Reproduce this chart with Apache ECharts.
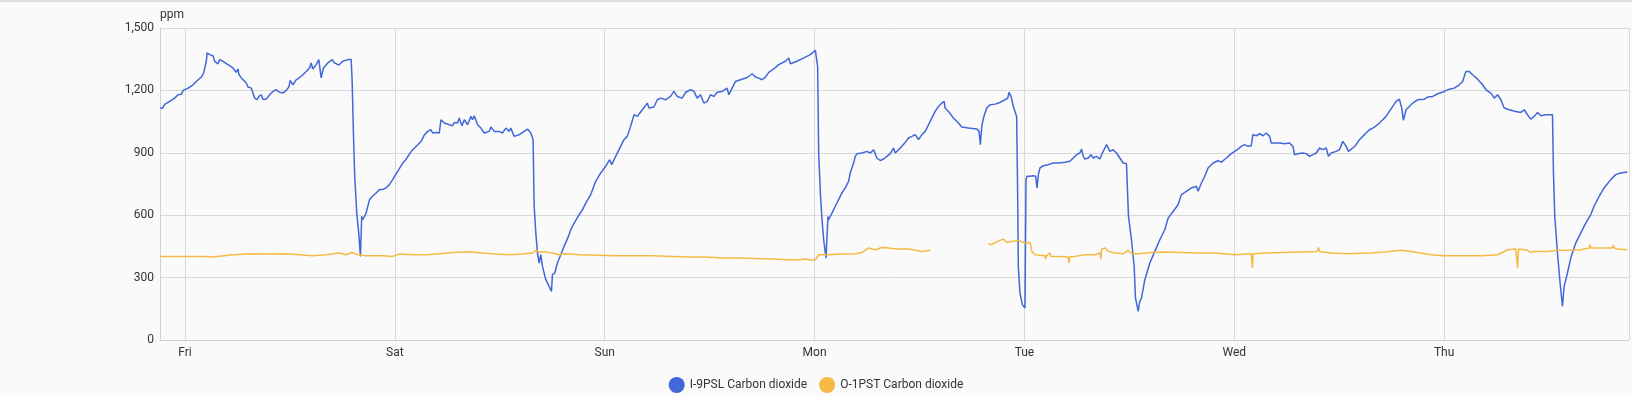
<!DOCTYPE html>
<html>
<head>
<meta charset="utf-8">
<script src="https://cdn.jsdelivr.net/npm/echarts@6/dist/echarts.min.js"></script>
<style>
  html, body { margin: 0; padding: 0; background: #fafafa; }
  #chart { width: 1632px; height: 396px; }
  #topbar { position: absolute; left: 0; top: 0; width: 1632px; height: 2px; background: #dedede; }
</style>
</head>
<body>
<div id="chart"></div>
<div id="topbar"></div>
<script>
// Hours since Friday 00:00, ppm
const seriesNames = ['I-9PSL Carbon dioxide', 'O-1PST Carbon dioxide'];
const weekdayLabels = ['Sun', 'Mon', 'Tue', 'Wed', 'Thu', 'Fri', 'Sat'];
const yTicks = [0, 300, 600, 900, 1200, 1500];

const indoorCO2 = [[-2.85,1115],[-2.58,1114],[-2.32,1133],[-2.13,1127],[-1.75,1147],[-1.18,1163],[-0.80,1179],[-0.41,1182],[-0.22,1200],[0.35,1211],[0.92,1227],[1.49,1251],[1.87,1264],[2.13,1283],[2.25,1291],[2.44,1340],[2.52,1380],[2.82,1372],[3.20,1367],[3.39,1340],[3.77,1328],[3.96,1348],[4.34,1340],[4.91,1324],[5.48,1308],[5.86,1287],[6.06,1303],[6.17,1276],[6.44,1260],[7.01,1236],[7.20,1216],[7.58,1211],[7.77,1187],[7.96,1163],[8.22,1155],[8.45,1171],[8.72,1179],[8.91,1158],[9.29,1158],[9.67,1179],[10.05,1195],[10.43,1203],[10.81,1191],[11.19,1187],[11.57,1200],[11.88,1216],[12.03,1248],[12.33,1227],[12.71,1251],[13.10,1262],[13.48,1275],[13.86,1291],[14.24,1308],[14.43,1332],[14.62,1303],[15.00,1324],[15.30,1348],[15.57,1260],[15.84,1308],[16.33,1332],[16.83,1348],[17.09,1332],[17.28,1340],[17.59,1322],[18.04,1340],[18.62,1348],[19.00,1348],[19.11,1251],[19.26,995],[19.41,787],[19.64,610],[19.87,514],[20.06,402],[20.21,595],[20.33,578],[20.52,578],[20.71,610],[20.90,610],[21.09,674],[21.39,690],[21.85,707],[22.23,723],[22.61,723],[22.99,731],[23.37,747],[23.75,771],[24.32,811],[24.89,850],[25.28,869],[25.85,906],[26.42,930],[26.99,954],[27.37,986],[27.75,1003],[28.13,1011],[28.32,995],[28.70,998],[29.08,995],[29.27,1059],[29.65,1043],[30.22,1035],[30.60,1030],[30.79,1046],[31.17,1043],[31.36,1067],[31.67,1030],[31.94,1059],[32.32,1035],[32.70,1075],[32.89,1059],[33.08,1078],[33.46,1035],[33.84,1019],[34.22,995],[34.79,1003],[34.98,1024],[35.36,1003],[35.93,1003],[36.31,995],[36.69,1019],[37.07,1003],[37.26,1019],[37.64,979],[38.22,987],[38.79,1003],[39.17,1014],[39.36,1011],[39.55,995],[39.81,963],[39.93,643],[40.12,514],[40.31,418],[40.50,370],[40.69,410],[40.88,354],[41.26,290],[41.64,258],[41.91,234],[42.02,314],[42.29,322],[42.59,370],[42.97,410],[43.35,450],[43.85,498],[44.11,530],[44.50,562],[45.07,602],[45.45,626],[45.83,658],[46.40,699],[46.97,763],[47.54,803],[48.11,835],[48.57,867],[48.80,843],[49.25,883],[49.82,931],[50.20,963],[50.58,979],[50.96,1027],[51.35,1083],[51.73,1075],[52.30,1107],[52.87,1139],[53.06,1115],[53.63,1120],[54.01,1155],[54.39,1163],[54.96,1155],[55.53,1171],[55.91,1195],[56.29,1171],[56.86,1163],[57.25,1191],[57.82,1203],[58.20,1195],[58.58,1163],[58.96,1179],[59.34,1139],[59.72,1147],[60.10,1179],[60.48,1171],[60.86,1191],[61.43,1195],[62.00,1211],[62.19,1179],[62.57,1211],[62.95,1243],[63.52,1251],[64.29,1262],[64.86,1280],[65.24,1264],[65.62,1259],[66.00,1251],[66.38,1264],[66.76,1287],[67.33,1303],[67.90,1324],[68.66,1340],[69.04,1356],[69.23,1328],[69.99,1340],[70.76,1356],[71.52,1372],[72.09,1393],[72.28,1398],[72.35,1315],[72.47,899],[72.66,707],[72.85,578],[73.04,482],[73.31,394],[73.53,594],[73.61,578],[73.99,610],[74.37,643],[74.75,675],[75.13,707],[75.51,731],[75.89,763],[76.08,803],[76.28,803],[76.46,851],[76.66,883],[76.85,896],[77.42,899],[77.99,907],[78.37,899],[78.75,915],[78.94,918],[79.13,875],[79.51,863],[79.89,870],[80.27,883],[80.65,896],[81.03,923],[81.22,899],[81.60,915],[81.98,931],[82.36,950],[82.74,971],[83.13,979],[83.51,987],[83.89,963],[84.27,987],[84.65,1003],[84.84,1019],[85.03,1035],[85.41,1067],[85.79,1099],[86.17,1123],[86.55,1139],[86.82,1147],[86.93,1115],[87.31,1099],[87.88,1067],[88.45,1043],[88.83,1024],[89.60,1019],[90.55,1014],[90.81,1003],[90.96,939],[91.12,1027],[91.31,1067],[91.69,1115],[92.07,1131],[92.64,1134],[93.21,1142],[93.78,1155],[94.09,1163],[94.24,1191],[94.47,1171],[94.73,1123],[95.11,1075],[95.23,674],[95.30,354],[95.49,226],[95.76,170],[96.06,154],[96.18,771],[96.29,787],[96.64,787],[97.02,790],[97.28,787],[97.44,731],[97.59,795],[97.78,827],[98.16,838],[98.73,843],[99.30,851],[99.87,851],[100.63,855],[101.20,859],[101.58,875],[101.96,891],[102.34,899],[102.53,918],[102.73,883],[102.92,870],[103.30,875],[103.60,891],[103.87,875],[104.25,883],[104.63,870],[104.82,891],[105.20,923],[105.39,939],[105.58,931],[105.77,907],[106.15,915],[106.53,899],[106.91,875],[107.29,851],[107.67,848],[107.86,843],[107.90,594],[108.24,482],[108.55,354],[108.70,202],[109.01,138],[109.19,186],[109.39,202],[109.77,290],[110.34,370],[110.91,426],[111.48,482],[112.05,530],[112.43,586],[113.00,618],[113.57,650],[113.95,699],[114.52,715],[115.09,731],[115.67,739],[115.86,715],[116.24,755],[116.62,787],[117.00,827],[117.57,851],[118.14,862],[118.52,855],[119.09,875],[119.66,896],[120.04,907],[120.42,918],[120.80,931],[121.18,939],[121.56,931],[121.94,934],[122.13,987],[122.52,982],[122.90,992],[123.28,982],[123.66,995],[124.04,979],[124.23,947],[124.61,947],[125.18,947],[125.75,944],[126.32,947],[126.70,931],[126.89,891],[127.27,896],[127.84,899],[128.22,896],[128.60,883],[128.99,891],[129.37,899],[129.75,923],[130.13,915],[130.51,923],[130.77,883],[131.08,899],[131.65,907],[132.03,915],[132.41,955],[132.79,931],[133.06,907],[133.55,923],[133.93,939],[134.31,963],[134.69,979],[135.08,995],[135.46,1011],[135.84,1019],[136.22,1030],[136.60,1043],[136.98,1059],[137.36,1075],[137.74,1099],[138.12,1123],[138.50,1147],[138.88,1158],[139.07,1155],[139.15,1115],[139.34,1056],[139.64,1107],[140.02,1123],[140.40,1139],[140.97,1155],[141.74,1158],[142.12,1168],[142.69,1171],[143.26,1184],[144.02,1195],[144.59,1206],[145.16,1211],[145.73,1227],[146.11,1243],[146.30,1251],[146.49,1291],[146.87,1291],[147.25,1275],[147.83,1254],[148.40,1227],[148.78,1203],[149.35,1187],[149.73,1163],[150.11,1179],[150.49,1155],[150.87,1115],[151.44,1107],[152.20,1099],[152.77,1094],[153.15,1107],[153.53,1083],[153.91,1062],[154.29,1075],[154.68,1094],[155.06,1078],[155.63,1083],[156.39,1083],[156.50,803],[156.65,594],[156.96,418],[157.26,274],[157.53,162],[157.72,258],[158.10,322],[158.48,394],[159.05,466],[159.62,514],[160.19,562],[160.76,602],[161.14,643],[161.72,690],[162.29,731],[163.05,771],[163.62,795],[164.19,803],[164.95,808]];

const outdoorCO2 = [[-2.85,402],[-0.22,402],[2.44,402],[3.20,399],[5.48,410],[7.77,415],[9.29,413],[11.57,415],[13.10,410],[14.62,405],[16.14,410],[17.66,418],[18.42,410],[19.11,421],[19.76,410],[20.71,405],[22.61,405],[23.75,402],[23.94,410],[24.51,413],[26.04,410],[27.56,410],[29.08,415],[30.60,421],[32.51,424],[34.03,418],[35.55,413],[37.07,410],[38.60,413],[39.74,418],[40.12,431],[40.50,423],[41.26,423],[42.02,418],[42.78,410],[43.54,415],[45.07,410],[47.35,408],[49.25,405],[51.15,405],[53.44,405],[55.72,402],[57.63,399],[59.53,399],[61.43,394],[63.33,394],[65.24,392],[67.14,389],[69.04,386],[70.19,386],[70.95,389],[71.71,383],[72.09,386],[72.47,410],[73.61,410],[75.13,413],[76.66,415],[77.42,421],[78.18,442],[78.94,434],[79.51,442],[80.08,445],[80.84,440],[81.60,437],[82.74,437],[83.32,434],[84.27,426],[85.22,431],[88.00,null],[91.88,463],[92.26,458],[92.64,469],[93.21,479],[93.59,485],[93.97,469],[94.54,474],[95.30,479],[96.06,466],[96.64,469],[96.83,426],[97.21,410],[98.35,405],[98.42,389],[98.54,405],[98.92,418],[99.03,402],[99.87,402],[101.01,399],[101.09,370],[101.16,399],[101.77,402],[102.92,410],[104.06,410],[104.63,418],[104.74,389],[104.82,437],[105.20,442],[105.58,426],[106.34,418],[107.29,415],[107.86,431],[108.24,415],[109.01,415],[110.53,421],[112.05,423],[113.95,421],[115.86,418],[117.76,418],[120.04,410],[121.94,415],[122.06,346],[122.17,415],[123.47,418],[125.75,421],[127.27,423],[129.48,426],[129.63,445],[129.79,424],[131.08,418],[132.98,415],[135.65,418],[137.17,423],[139.07,431],[140.59,423],[142.50,410],[144.02,405],[146.30,405],[148.20,405],[150.11,410],[151.25,434],[152.20,437],[152.39,346],[152.51,437],[153.53,431],[153.91,421],[154.29,426],[155.82,426],[156.96,431],[158.48,431],[159.62,434],[160.57,442],[160.69,458],[160.80,442],[161.53,442],[163.24,442],[163.35,456],[163.47,442],[163.81,437],[164.95,434]];

const HOUR = 3600000, DAY = 24 * HOUR;
const base = new Date(2024, 2, 1).getTime(); // a Friday, 00:00 local
const startHours = -2.86, spanHours = 168;
const toPoints = arr => arr.map(p => [base + p[0] * HOUR, p[1]]);

const chart = echarts.init(document.getElementById('chart'), null, { renderer: 'canvas' });
const font = 'Roboto, "Noto Sans", sans-serif';
chart.setOption({
  animation: false,
  backgroundColor: '#fafafa',
  textStyle: { fontFamily: font },
  grid: { left: 160, right: 1, top: 28, bottom: 56, containLabel: false },
  legend: {
    top: 377, left: 'center',
    icon: 'circle', itemWidth: 16, itemHeight: 16, itemGap: 12, padding: 0,
    textStyle: { fontFamily: font, fontSize: 12, color: '#333' },
    data: seriesNames
  },
  xAxis: {
    type: 'time',
    min: base + startHours * HOUR,
    max: base + (startHours + spanHours) * HOUR,
    minInterval: DAY, maxInterval: DAY,
    axisLine: { show: true, lineStyle: { color: '#d0d0d0' } },
    axisTick: { show: false },
    splitLine: { show: true, lineStyle: { color: '#d8d8d8', width: 1 } },
    axisLabel: {
      color: '#333', fontSize: 12, fontFamily: font, margin: 7,
      showMinLabel: true, showMaxLabel: true, hideOverlap: false,
      formatter: function (v) {
        const d = new Date(v);
        if (d.getHours() !== 0 || d.getMinutes() !== 0) return '';
        return weekdayLabels[d.getDay()];
      }
    }
  },
  yAxis: {
    type: 'value', min: yTicks[0], max: yTicks[yTicks.length - 1], interval: 300,
    name: 'ppm', nameLocation: 'end', nameGap: 7,
    nameTextStyle: { align: 'left', color: '#333', fontSize: 12, fontFamily: font },
    axisLine: { show: true, lineStyle: { color: '#d0d0d0' } },
    axisTick: { show: false },
    splitLine: { show: true, lineStyle: { color: '#d8d8d8', width: 1 } },
    axisLabel: { color: '#333', fontSize: 12, fontFamily: font, margin: 6 }
  },
  series: [
    {
      name: seriesNames[0], type: 'line', data: toPoints(indoorCO2),
      showSymbol: false, symbol: 'none', connectNulls: false,
      color: '#4167d8', lineStyle: { color: '#4167d8', width: 1.5 }
    },
    {
      name: seriesNames[1], type: 'line', data: toPoints(outdoorCO2),
      showSymbol: false, symbol: 'none', connectNulls: false,
      color: '#f5ba43', lineStyle: { color: '#f5ba43', width: 1.5 }
    }
  ]
});
</script>
</body>
</html>
